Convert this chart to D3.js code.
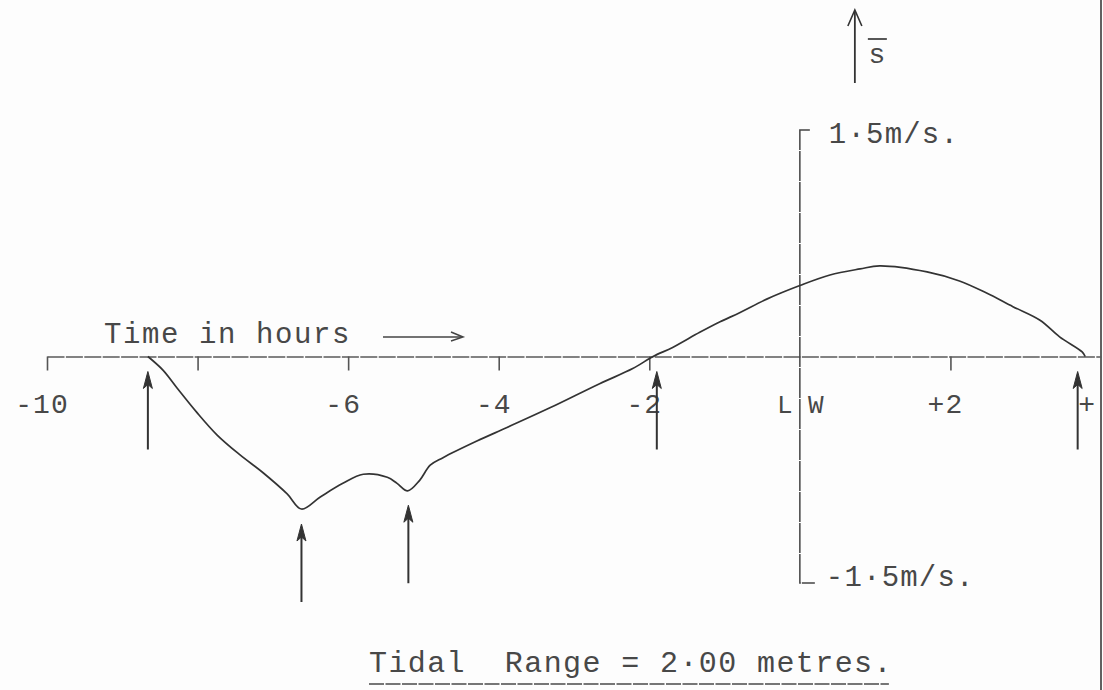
<!DOCTYPE html>
<html>
<head>
<meta charset="utf-8">
<script src="https://cdn.jsdelivr.net/npm/d3@7"></script>
<style>
  html, body { margin: 0; padding: 0; background: #fdfdfd; }
  svg { display: block; }
  text { font-family: "Liberation Mono", "DejaVu Sans Mono", monospace; fill: #484848; }
</style>
</head>
<body>
<svg id="chart" width="1103" height="690"></svg>
<script>
// Mean current speed (m/s) against time relative to low water (hours)
const hours = [-8.66, -8.46, -8.27, -8.01, -7.74, -7.44, -7.13, -6.81, -6.62, -6.37,
               -6.07, -5.80, -5.48, -5.35, -5.21, -5.05, -4.91, -4.74, -4.29, -3.89,
               -3.32, -2.66, -2.22, -1.95, -1.69, -1.33, -1.06, -0.80, -0.44, 0.00,
               0.40, 0.80, 1.06, 1.69, 2.12, 2.48, 2.83, 3.19, 3.45, 3.75, 3.79];
const speeds = [0.00, -0.09, -0.21, -0.37, -0.52, -0.65, -0.77, -0.91, -1.01, -0.93,
                -0.84, -0.78, -0.80, -0.84, -0.89, -0.82, -0.72, -0.67, -0.56, -0.47,
                -0.34, -0.18, -0.08, 0.00, 0.06, 0.16, 0.23, 0.29, 0.38, 0.47,
                0.54, 0.58, 0.60, 0.56, 0.50, 0.42, 0.33, 0.24, 0.13, 0.03, 0.00];

// Time axis ticks and labels
const tickHours = [-10, -8, -6, -4, -2, 2];
const labelHours = [-10, -6, -4, -2, 2, 4];
const labelTexts = ["-10", "-6", "-4", "-2", "+2", "+"];

// Speed axis end labels
const speedLimits = [1.5, -1.5];
const speedLabels = ["1·5m/s.", "-1·5m/s."];

// Times marked with upward arrows (slack water and speed minima)
const markHours = [-8.66, -6.62, -5.20, -1.90, 3.69];

const axisTitle = "Time in hours";
const speedSymbol = "s";
const lowWater = ["L", "W"];
const caption = "Tidal  Range = 2·00 metres.";

const W = 1103, H = 690;
const svg = d3.select("#chart");

const x = d3.scaleLinear().domain([-10, 4]).range([47, 1101]);
const y = d3.scaleLinear().domain([-1.5, 1.5]).range([583, 130]);
const ink = "#333";

// page edge on the right
svg.append("line")
  .attr("x1", 1101).attr("x2", 1101).attr("y1", 0).attr("y2", H)
  .attr("stroke", "#3a3a3a").attr("stroke-width", 1.6);

// time axis
const xAxis = d3.axisBottom(x).tickValues(tickHours).tickSize(14).tickSizeOuter(0).tickFormat("");
const gx = svg.append("g").attr("transform", `translate(0,${y(0)})`).call(xAxis);
gx.select(".domain").attr("stroke", "#5a5a5a").attr("stroke-width", 1.4).attr("stroke-dasharray", "17 1.4");
gx.selectAll(".tick line").attr("stroke", "#555").attr("stroke-width", 1.6);

svg.selectAll("text.tlabel")
  .data(labelHours)
  .join("text")
  .attr("class", "tlabel")
  .attr("x", d => x(d) - 5)
  .attr("y", 413)
  .attr("text-anchor", (d, i) => labelTexts[i] === "+" ? "end" : "middle")
  .style("font-size", "28px")
  .style("letter-spacing", "1px")
  .text((d, i) => labelTexts[i]);

// L | W either side of the low-water line
svg.append("text").attr("x", x(0) - 15).attr("y", 413).attr("text-anchor", "middle")
  .style("font-size", "26px").text(lowWater[0]);
svg.append("text").attr("x", x(0) + 16).attr("y", 413).attr("text-anchor", "middle")
  .style("font-size", "26px").text(lowWater[1]);

// speed axis with bracket ends
const x0 = x(0);
svg.append("path")
  .attr("d", `M${x0 + 10},${y(1.5)} H${x0} V${y(-1.5)} H${x0 + 15}`)
  .attr("fill", "none").attr("stroke", "#444").attr("stroke-width", 1.5)
  .attr("stroke-dasharray", "30 1");

svg.selectAll("text.slabel")
  .data(speedLimits)
  .join("text")
  .attr("class", "slabel")
  .attr("x", (d, i) => x0 + (i === 0 ? 29 : 26))
  .attr("y", d => y(d) + (d > 0 ? 13 : 3))
  .style("font-size", "29px")
  .style("letter-spacing", "1.2px")
  .text((d, i) => speedLabels[i]);

// direction arrow and symbol for the speed
const ax = x0 + 55;
svg.append("line").attr("x1", ax).attr("x2", ax).attr("y1", 11).attr("y2", 83)
  .attr("stroke", ink).attr("stroke-width", 1.8);
svg.append("path").attr("d", `M${ax - 7},${26} L${ax},${10} L${ax + 7},${26}`)
  .attr("fill", "none").attr("stroke", ink).attr("stroke-width", 1.6);
svg.append("text").attr("x", ax + 22).attr("y", 63).attr("text-anchor", "middle")
  .style("font-size", "28px").text(speedSymbol);
svg.append("line").attr("x1", ax + 13).attr("x2", ax + 32).attr("y1", 39).attr("y2", 39)
  .attr("stroke", "#444").attr("stroke-width", 1.8);

// axis title with arrow
svg.append("text").attr("x", 104).attr("y", 343)
  .style("font-size", "29px").style("letter-spacing", "1.6px").style("white-space", "pre")
  .text(axisTitle);
svg.append("line").attr("x1", 383).attr("x2", 462).attr("y1", 337).attr("y2", 337)
  .attr("stroke", "#444").attr("stroke-width", 1.5);
svg.append("path").attr("d", "M451,332 L463,337 L451,341")
  .attr("fill", "none").attr("stroke", "#444").attr("stroke-width", 1.5);

// speed curve
const line = d3.line()
  .x((d, i) => x(hours[i]))
  .y(d => y(d))
  .curve(d3.curveCatmullRom.alpha(0.5));
svg.append("path")
  .datum(speeds)
  .attr("d", line)
  .attr("fill", "none")
  .attr("stroke", ink)
  .attr("stroke-width", 1.7)
  .attr("stroke-linejoin", "round");

// upward marker arrows beneath the curve
const speedAt = h => {
  const i = d3.bisectLeft(hours, h);
  if (i <= 0) return speeds[0];
  if (i >= hours.length) return speeds[speeds.length - 1];
  const t = (h - hours[i - 1]) / (hours[i] - hours[i - 1]);
  return speeds[i - 1] + t * (speeds[i] - speeds[i - 1]);
};
const marks = svg.append("g");
markHours.forEach(h => {
  const mx = x(h);
  const tip = y(Math.min(speedAt(h), 0)) + 15;
  marks.append("line").attr("x1", mx).attr("x2", mx).attr("y1", tip + 6).attr("y2", tip + 78)
    .attr("stroke", ink).attr("stroke-width", 2);
  marks.append("path").attr("d", `M${mx},${tip} L${mx - 4.5},${tip + 17} L${mx},${tip + 13} L${mx + 4.5},${tip + 17} Z`)
    .attr("fill", ink).attr("stroke", ink).attr("stroke-width", 1);
});

// caption, underlined
const cap = svg.append("text").attr("x", 369).attr("y", 672)
  .style("font-size", "30px").style("letter-spacing", "1.4px").style("white-space", "pre")
  .text(caption);
const bb = cap.node().getBBox();
svg.append("line").attr("x1", bb.x).attr("x2", bb.x + bb.width - 4).attr("y1", 684).attr("y2", 684)
  .attr("stroke", "#4a4a4a").attr("stroke-width", 1.6).attr("stroke-dasharray", "15 1.5");
</script>
</body>
</html>
